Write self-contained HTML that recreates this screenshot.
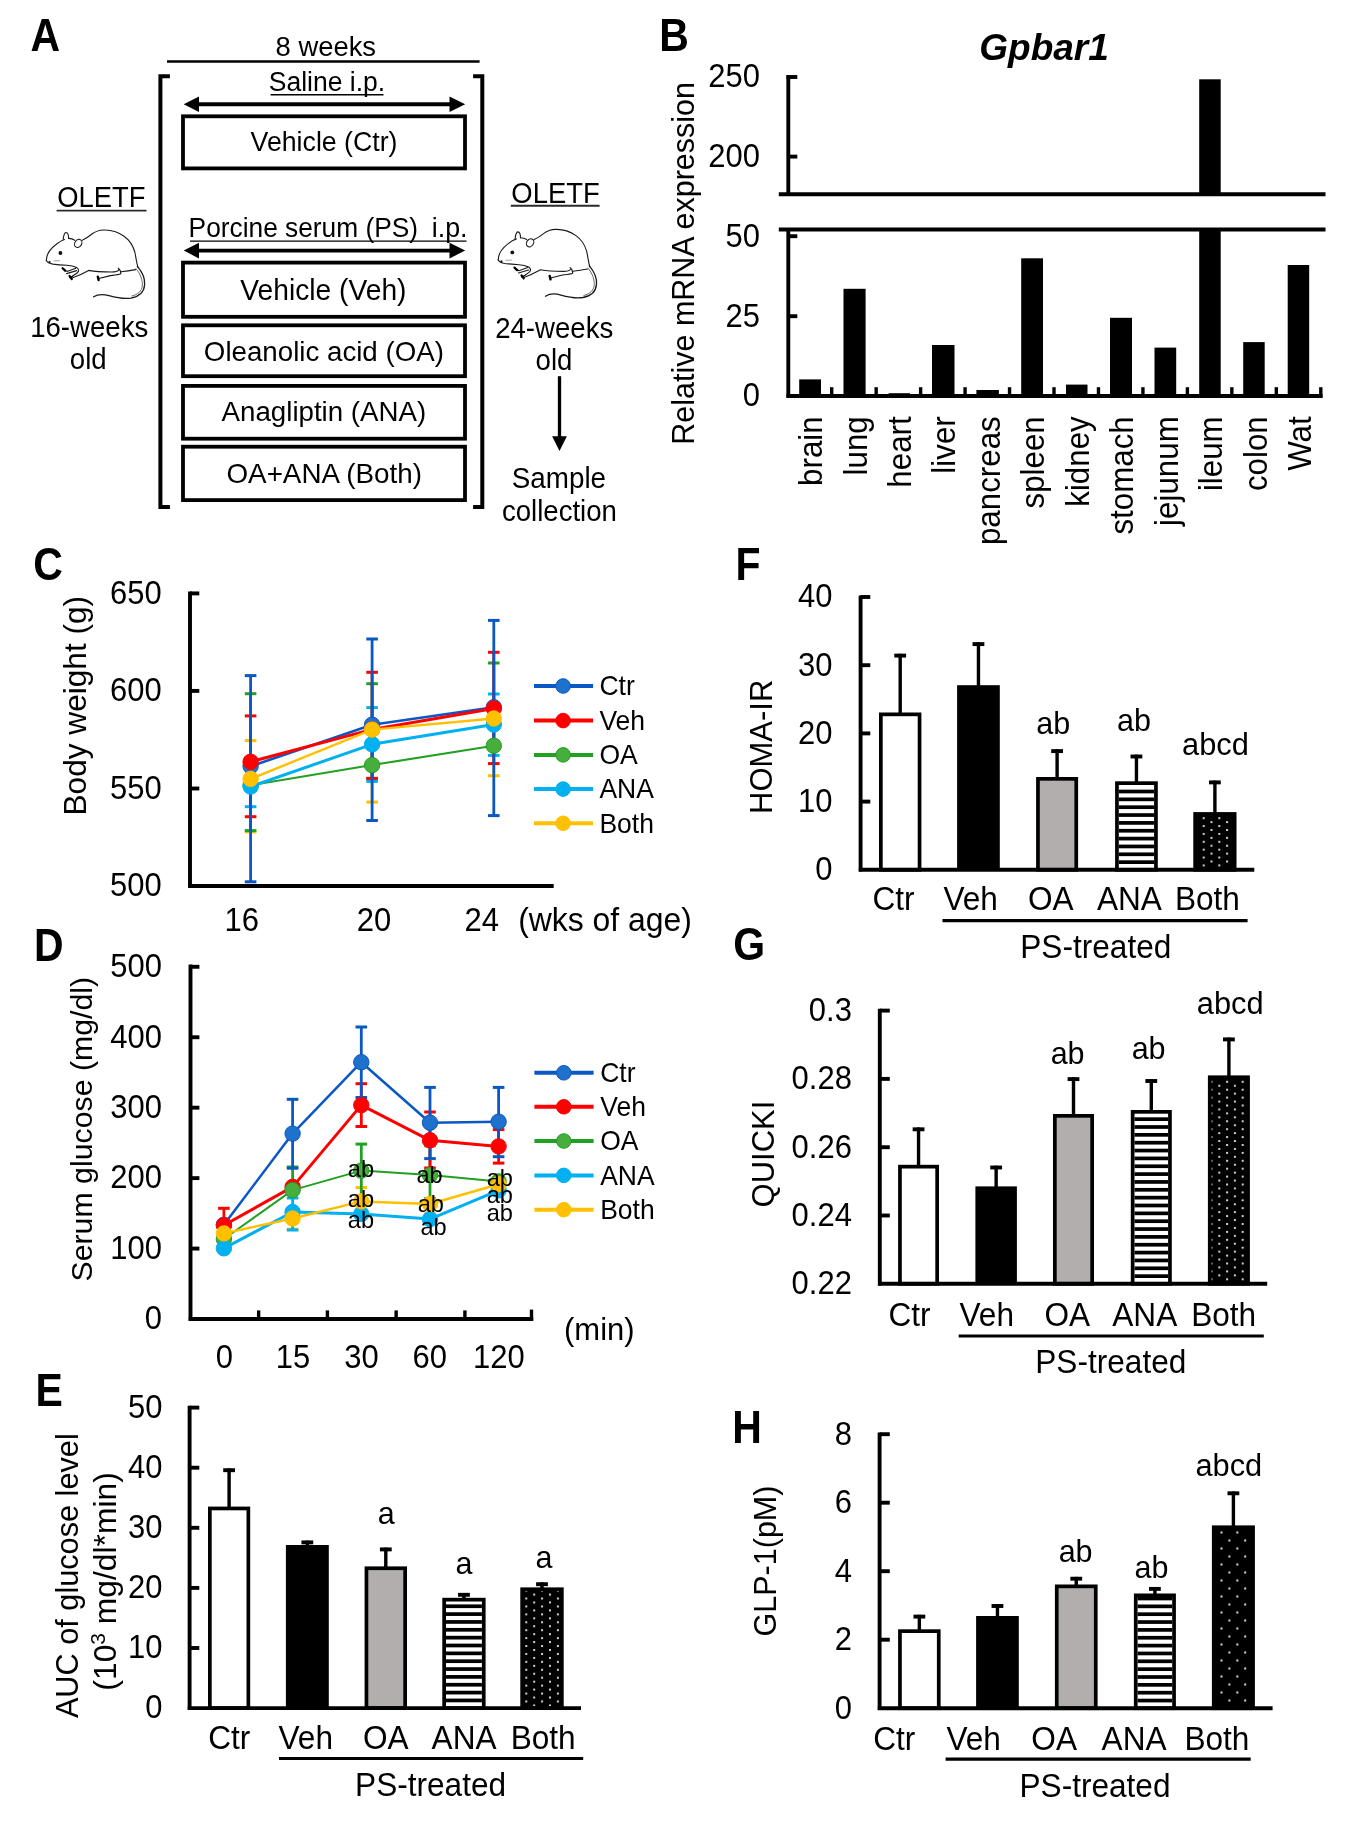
<!DOCTYPE html><html><head><meta charset="utf-8"><title>Figure</title><style>html,body{margin:0;padding:0;background:#fff;}svg{display:block;filter:blur(0.55px);}text{font-family:"Liberation Sans", sans-serif;fill:#000;}</style></head><body>
<svg width="1349" height="1825" viewBox="0 0 1349 1825" font-family='"Liberation Sans", sans-serif'>
<rect width="1349" height="1825" fill="#fff"/>
<defs>
<pattern id="dotsA" patternUnits="userSpaceOnUse" x="525.3" y="1589.6" width="15.8" height="7.92">
<rect width="15.8" height="7.92" fill="#000"/>
<rect x="0" y="0" width="2" height="2" fill="#d0d0d0"/>
<rect x="7.9" y="3.96" width="2" height="2" fill="#d0d0d0"/>
</pattern>
<pattern id="dotsF" patternUnits="userSpaceOnUse" x="1202.7" y="817.2" width="15.6" height="7.87">
<rect width="15.6" height="7.87" fill="#000"/>
<rect x="0" y="0" width="2" height="2" fill="#d0d0d0"/>
<rect x="7.8" y="3.935" width="2" height="2" fill="#d0d0d0"/>
</pattern>
<pattern id="dotsG" patternUnits="userSpaceOnUse" x="1210.5" y="1080.8" width="15.6" height="7.9">
<rect width="15.6" height="7.9" fill="#000"/>
<rect x="0" y="0" width="2" height="2" fill="#d0d0d0"/>
<rect x="7.8" y="3.95" width="2" height="2" fill="#d0d0d0"/>
</pattern>
<pattern id="dotsH" patternUnits="userSpaceOnUse" x="1220.5" y="1547.5" width="15.8" height="16">
<rect width="15.8" height="16" fill="#000"/>
<rect x="0" y="0" width="2" height="2" fill="#d8d8d8"/>
<rect x="7.9" y="8" width="2" height="2" fill="#d8d8d8"/>
</pattern>
</defs>
<text transform="translate(30.6 51.3) scale(1 1.11)" font-size="41" font-weight="bold">A</text>
<text transform="translate(325.8 55.5) scale(1 1.04)" font-size="27.4" text-anchor="middle">8 weeks</text>
<line x1="167" y1="61.5" x2="479.6" y2="61.5" stroke="#000" stroke-width="2.6" stroke-linecap="butt"/>
<path d="M169.9,76.3 H160.4 V507.1 H169.9" stroke="#000" stroke-width="4" fill="none" stroke-linejoin="miter"/>
<path d="M473.1,76.3 H482.3 V507.1 H473.1" stroke="#000" stroke-width="4" fill="none" stroke-linejoin="miter"/>
<text transform="translate(327 90.8) scale(1 1.04)" font-size="26.5" text-anchor="middle">Saline i.p.</text>
<line x1="270.6" y1="94.7" x2="383.5" y2="94.7" stroke="#000" stroke-width="1.4" stroke-linecap="butt"/>
<line x1="196" y1="104.2" x2="452" y2="104.2" stroke="#000" stroke-width="3.9" stroke-linecap="butt"/>
<path d="M183.7,104.2 L199,96.4 L199,112 Z" fill="#000"/>
<path d="M465.2,104.2 L449.5,96.4 L449.5,112 Z" fill="#000"/>
<line x1="196" y1="250.6" x2="452" y2="250.6" stroke="#000" stroke-width="3.9" stroke-linecap="butt"/>
<path d="M183.7,250.6 L199,242.8 L199,258.4 Z" fill="#000"/>
<path d="M465.2,250.6 L449.5,242.8 L449.5,258.4 Z" fill="#000"/>
<rect x="183" y="116.3" width="282" height="52.1" fill="none" stroke="#000" stroke-width="3.8"/>
<text transform="translate(324 151.2) scale(1 1.06)" font-size="26.7" text-anchor="middle">Vehicle (Ctr)</text>
<rect x="183" y="262.6" width="282" height="54.2" fill="none" stroke="#000" stroke-width="3.8"/>
<text transform="translate(323.4 299.8) scale(1 1.067)" font-size="28.2" text-anchor="middle">Vehicle (Veh)</text>
<rect x="183" y="325.3" width="282" height="50.9" fill="none" stroke="#000" stroke-width="3.8"/>
<text x="323.9" y="361" font-size="27.7" text-anchor="middle">Oleanolic acid (OA)</text>
<rect x="183" y="385.9" width="282" height="52.8" fill="none" stroke="#000" stroke-width="3.8"/>
<text x="323.9" y="421" font-size="27.7" text-anchor="middle">Anagliptin (ANA)</text>
<rect x="183" y="446.7" width="282" height="53.4" fill="none" stroke="#000" stroke-width="3.8"/>
<text x="324.2" y="482.9" font-size="27.8" text-anchor="middle">OA+ANA (Both)</text>
<text transform="translate(188.6 237.2) scale(1 1.04)" font-size="26.3">Porcine serum (PS)</text>
<text transform="translate(431.8 237.2) scale(1 1.04)" font-size="26.8">i.p.</text>
<line x1="190" y1="241.2" x2="466.5" y2="241.2" stroke="#000" stroke-width="1.2" stroke-linecap="butt"/>
<text transform="translate(101.4 207.4) scale(1 1.11)" font-size="27.4" text-anchor="middle">OLETF</text>
<line x1="56.6" y1="210.6" x2="146.5" y2="210.6" stroke="#2a2a2a" stroke-width="1.9" stroke-linecap="butt"/>
<text transform="translate(89.2 337.3) scale(1 1.04)" font-size="27.6" text-anchor="middle">16-weeks</text>
<text transform="translate(88.2 369.1) scale(1 1.04)" font-size="27.6" text-anchor="middle">old</text>
<text transform="translate(555.5 202.6) scale(1 1.11)" font-size="27.4" text-anchor="middle">OLETF</text>
<line x1="510.8" y1="205.8" x2="599.6" y2="205.8" stroke="#2a2a2a" stroke-width="1.9" stroke-linecap="butt"/>
<text transform="translate(554.2 338.2) scale(1 1.04)" font-size="27.6" text-anchor="middle">24-weeks</text>
<text transform="translate(554 369.9) scale(1 1.04)" font-size="27.6" text-anchor="middle">old</text>
<line x1="559.5" y1="376.2" x2="559.5" y2="438" stroke="#000" stroke-width="3.3" stroke-linecap="butt"/>
<path d="M552.1,436.3 L566.9,436.3 L559.5,451.1 Z" fill="#000"/>
<text transform="translate(558.9 487.8) scale(1 1.04)" font-size="27.8" text-anchor="middle">Sample</text>
<text transform="translate(559.4 521.4) scale(1 1.04)" font-size="27.6" text-anchor="middle">collection</text>
<g transform="translate(0 0)" fill="none" stroke="#1a1a1a" stroke-width="1.1" stroke-linecap="round" stroke-linejoin="round">
<path d="M46.3,260.5 C46.4,255 50,249 56,244.5 C59,242 61.5,240.4 64.5,239.5 M68.6,238.4 C71,238.6 73,239.2 74.8,240.2 M82.3,240.2 C86,238.5 89,236.4 92,234 C95,231.6 99,230.2 104,230 C111,229.8 118,232 124,236.2 C129.5,240 133,245.5 134.8,252 C136.2,258 136.4,263 138,267.4"/>
<path d="M63.2,239.4 C63.4,236 64.6,232.4 66,232.5 C67.6,232.6 68.6,235.6 68.6,238.4"/>
<ellipse cx="78.2" cy="243.4" rx="3.4" ry="4.3" transform="rotate(35 78.2 243.4)"/>
<circle cx="60.4" cy="253" r="1.9" fill="#111" stroke="none"/>
<circle cx="49.6" cy="262" r="1.1" fill="#111" stroke="none"/>
<path d="M46.3,260.5 C47.5,263 50,263.6 53,264.1 C57,264.6 62,265 67,265.3 C71,265.5 74,266.2 76.8,267.6 C78.8,269 79.2,271 77.6,272.5 C75.6,274.2 72.4,276 70.4,277.6"/>
<path d="M54,261 L59.5,260.6" stroke="#888" stroke-width="0.8"/>
<path d="M63.4,268.6 L67,271.4 L75.8,268.2 M66.6,273.6 L76.6,270.6 M69.6,277.6 L73,276"/>
<path d="M62.6,268.2 L65.2,270.8 M69.6,276 L71.8,279" stroke="#000" stroke-width="2.2"/>
<path d="M72,278 C78,276 84,273 88.6,270.4 C95,271.6 104,272 111.6,272 C115.6,272 117.8,271.2 119.2,269.6 M118.2,268.2 C119.6,269.2 121,271.2 120.8,273.8 C118,275 114,275.2 110.6,275.6 L97.6,278.8 M121,271.8 C126,271.4 131,270.6 135.6,269.6"/>
<path d="M97.8,276.6 L98.6,280" stroke="#000" stroke-width="2.4"/>
<path d="M137.4,266.4 C142.2,272 145.2,279 144.6,285 C144,292 139,296.6 131,298.1 C123,299.2 116,297.6 109,295.6 C103,294 98,294 93.6,296.8" stroke-width="1.3"/>
<path d="M136,268.6 C140.6,274 142.8,280.4 142.3,286 C141.8,291 138,294.6 132,296" stroke-width="0.9" stroke="#555"/>
</g>
<g transform="translate(451.9 -0.6)" fill="none" stroke="#1a1a1a" stroke-width="1.1" stroke-linecap="round" stroke-linejoin="round">
<path d="M46.3,260.5 C46.4,255 50,249 56,244.5 C59,242 61.5,240.4 64.5,239.5 M68.6,238.4 C71,238.6 73,239.2 74.8,240.2 M82.3,240.2 C86,238.5 89,236.4 92,234 C95,231.6 99,230.2 104,230 C111,229.8 118,232 124,236.2 C129.5,240 133,245.5 134.8,252 C136.2,258 136.4,263 138,267.4"/>
<path d="M63.2,239.4 C63.4,236 64.6,232.4 66,232.5 C67.6,232.6 68.6,235.6 68.6,238.4"/>
<ellipse cx="78.2" cy="243.4" rx="3.4" ry="4.3" transform="rotate(35 78.2 243.4)"/>
<circle cx="60.4" cy="253" r="1.9" fill="#111" stroke="none"/>
<circle cx="49.6" cy="262" r="1.1" fill="#111" stroke="none"/>
<path d="M46.3,260.5 C47.5,263 50,263.6 53,264.1 C57,264.6 62,265 67,265.3 C71,265.5 74,266.2 76.8,267.6 C78.8,269 79.2,271 77.6,272.5 C75.6,274.2 72.4,276 70.4,277.6"/>
<path d="M54,261 L59.5,260.6" stroke="#888" stroke-width="0.8"/>
<path d="M63.4,268.6 L67,271.4 L75.8,268.2 M66.6,273.6 L76.6,270.6 M69.6,277.6 L73,276"/>
<path d="M62.6,268.2 L65.2,270.8 M69.6,276 L71.8,279" stroke="#000" stroke-width="2.2"/>
<path d="M72,278 C78,276 84,273 88.6,270.4 C95,271.6 104,272 111.6,272 C115.6,272 117.8,271.2 119.2,269.6 M118.2,268.2 C119.6,269.2 121,271.2 120.8,273.8 C118,275 114,275.2 110.6,275.6 L97.6,278.8 M121,271.8 C126,271.4 131,270.6 135.6,269.6"/>
<path d="M97.8,276.6 L98.6,280" stroke="#000" stroke-width="2.4"/>
<path d="M137.4,266.4 C142.2,272 145.2,279 144.6,285 C144,292 139,296.6 131,298.1 C123,299.2 116,297.6 109,295.6 C103,294 98,294 93.6,296.8" stroke-width="1.3"/>
<path d="M136,268.6 C140.6,274 142.8,280.4 142.3,286 C141.8,291 138,294.6 132,296" stroke-width="0.9" stroke="#555"/>
</g>
<text transform="translate(659.3 51.1) scale(1 1.11)" font-size="41" font-weight="bold">B</text>
<text x="979.3" y="60" font-size="37" font-weight="bold" font-style="italic">Gpbar1</text>
<text transform="translate(693.7 263.4) rotate(-90)" font-size="30.5" text-anchor="middle">Relative mRNA expression</text>
<line x1="788.3" y1="75.2" x2="788.3" y2="194.2" stroke="#000" stroke-width="3.9" stroke-linecap="butt"/>
<line x1="786.5" y1="77" x2="797.3" y2="77" stroke="#000" stroke-width="3.9" stroke-linecap="butt"/>
<line x1="788.3" y1="156.6" x2="797.3" y2="156.6" stroke="#000" stroke-width="3.9" stroke-linecap="butt"/>
<line x1="778.8" y1="194.2" x2="1325.5" y2="194.2" stroke="#000" stroke-width="4" stroke-linecap="butt"/>
<line x1="778.8" y1="229.4" x2="1325.5" y2="229.4" stroke="#000" stroke-width="4" stroke-linecap="butt"/>
<line x1="788.3" y1="229.4" x2="788.3" y2="397.8" stroke="#000" stroke-width="3.9" stroke-linecap="butt"/>
<line x1="788.3" y1="236.2" x2="797.3" y2="236.2" stroke="#000" stroke-width="3.9" stroke-linecap="butt"/>
<line x1="788.3" y1="316.2" x2="797.3" y2="316.2" stroke="#000" stroke-width="3.9" stroke-linecap="butt"/>
<line x1="786.5" y1="396" x2="1322.5" y2="396" stroke="#000" stroke-width="3.9" stroke-linecap="butt"/>
<text transform="translate(760 87.3) scale(1 1.085)" font-size="31" text-anchor="end">250</text>
<text transform="translate(760 166.9) scale(1 1.085)" font-size="31" text-anchor="end">200</text>
<text transform="translate(760 246.5) scale(1 1.085)" font-size="31" text-anchor="end">50</text>
<text transform="translate(760 326.5) scale(1 1.085)" font-size="31" text-anchor="end">25</text>
<text transform="translate(760 406.3) scale(1 1.085)" font-size="31" text-anchor="end">0</text>
<rect x="799.2" y="379.4" width="21.8" height="16.6" fill="#000"/>
<rect x="843.5" y="288.8" width="22.1" height="107.2" fill="#000"/>
<rect x="888.6" y="393.2" width="21.4" height="2.8" fill="#000"/>
<rect x="932" y="345" width="22.5" height="51" fill="#000"/>
<rect x="976.4" y="390" width="22.5" height="6" fill="#000"/>
<rect x="1021.2" y="258.3" width="21.8" height="137.7" fill="#000"/>
<rect x="1066" y="384.6" width="21.5" height="11.4" fill="#000"/>
<rect x="1110" y="317.8" width="22" height="78.2" fill="#000"/>
<rect x="1154.5" y="347.6" width="21.7" height="48.4" fill="#000"/>
<rect x="1199.2" y="79.3" width="21.5" height="114.9" fill="#000"/>
<rect x="1199.2" y="229.4" width="21.5" height="166.6" fill="#000"/>
<rect x="1243.2" y="342.1" width="21.5" height="53.9" fill="#000"/>
<rect x="1287.7" y="265" width="21.5" height="131" fill="#000"/>
<line x1="831.7" y1="387.2" x2="831.7" y2="396" stroke="#000" stroke-width="3.4" stroke-linecap="butt"/>
<line x1="876.16" y1="387.2" x2="876.16" y2="396" stroke="#000" stroke-width="3.4" stroke-linecap="butt"/>
<line x1="920.62" y1="387.2" x2="920.62" y2="396" stroke="#000" stroke-width="3.4" stroke-linecap="butt"/>
<line x1="965.08" y1="387.2" x2="965.08" y2="396" stroke="#000" stroke-width="3.4" stroke-linecap="butt"/>
<line x1="1009.54" y1="387.2" x2="1009.54" y2="396" stroke="#000" stroke-width="3.4" stroke-linecap="butt"/>
<line x1="1054" y1="387.2" x2="1054" y2="396" stroke="#000" stroke-width="3.4" stroke-linecap="butt"/>
<line x1="1098.46" y1="387.2" x2="1098.46" y2="396" stroke="#000" stroke-width="3.4" stroke-linecap="butt"/>
<line x1="1142.92" y1="387.2" x2="1142.92" y2="396" stroke="#000" stroke-width="3.4" stroke-linecap="butt"/>
<line x1="1187.38" y1="387.2" x2="1187.38" y2="396" stroke="#000" stroke-width="3.4" stroke-linecap="butt"/>
<line x1="1231.84" y1="387.2" x2="1231.84" y2="396" stroke="#000" stroke-width="3.4" stroke-linecap="butt"/>
<line x1="1276.3" y1="387.2" x2="1276.3" y2="396" stroke="#000" stroke-width="3.4" stroke-linecap="butt"/>
<line x1="1320.8" y1="387.2" x2="1320.8" y2="397.8" stroke="#000" stroke-width="3.4" stroke-linecap="butt"/>
<text transform="translate(822.05 416.3) rotate(-90) scale(1 1.04)" font-size="31.3" text-anchor="end">brain</text>
<text transform="translate(866.51 416.3) rotate(-90) scale(1 1.04)" font-size="31.3" text-anchor="end">lung</text>
<text transform="translate(910.97 416.3) rotate(-90) scale(1 1.04)" font-size="31.3" text-anchor="end">heart</text>
<text transform="translate(955.43 416.3) rotate(-90) scale(1 1.04)" font-size="31.3" text-anchor="end">liver</text>
<text transform="translate(999.89 416.3) rotate(-90) scale(1 1.04)" font-size="31.3" text-anchor="end">pancreas</text>
<text transform="translate(1044.35 416.3) rotate(-90) scale(1 1.04)" font-size="31.3" text-anchor="end">spleen</text>
<text transform="translate(1088.81 416.3) rotate(-90) scale(1 1.04)" font-size="31.3" text-anchor="end">kidney</text>
<text transform="translate(1133.27 416.3) rotate(-90) scale(1 1.04)" font-size="31.3" text-anchor="end">stomach</text>
<text transform="translate(1177.73 416.3) rotate(-90) scale(1 1.04)" font-size="31.3" text-anchor="end">jejunum</text>
<text transform="translate(1222.19 416.3) rotate(-90) scale(1 1.04)" font-size="31.3" text-anchor="end">ileum</text>
<text transform="translate(1266.65 416.3) rotate(-90) scale(1 1.04)" font-size="31.3" text-anchor="end">colon</text>
<text transform="translate(1311.11 416.3) rotate(-90) scale(1 1.04)" font-size="31.3" text-anchor="end">Wat</text>
<text transform="translate(33.3 579.8) scale(1 1.12)" font-size="41" font-weight="bold">C</text>
<text transform="translate(86 705.7) rotate(-90)" font-size="31.6" text-anchor="middle">Body weight (g)</text>
<line x1="190" y1="591.6" x2="190" y2="887.6" stroke="#000" stroke-width="3.9" stroke-linecap="butt"/>
<line x1="190" y1="593.4" x2="199.3" y2="593.4" stroke="#000" stroke-width="3.9" stroke-linecap="butt"/>
<line x1="190" y1="690.9" x2="199.3" y2="690.9" stroke="#000" stroke-width="3.9" stroke-linecap="butt"/>
<line x1="190" y1="788.5" x2="199.3" y2="788.5" stroke="#000" stroke-width="3.9" stroke-linecap="butt"/>
<line x1="188.2" y1="886" x2="553.7" y2="886" stroke="#000" stroke-width="3.9" stroke-linecap="butt"/>
<text transform="translate(161.7 603.7) scale(1 1.085)" font-size="31" text-anchor="end">650</text>
<text transform="translate(161.7 701.2) scale(1 1.085)" font-size="31" text-anchor="end">600</text>
<text transform="translate(161.7 798.8) scale(1 1.085)" font-size="31" text-anchor="end">550</text>
<text transform="translate(161.7 896.3) scale(1 1.085)" font-size="31" text-anchor="end">500</text>
<text transform="translate(241.8 931.4) scale(1 1.07)" font-size="31" text-anchor="middle">16</text>
<text transform="translate(374 931.4) scale(1 1.07)" font-size="31" text-anchor="middle">20</text>
<text transform="translate(481.7 931.4) scale(1 1.07)" font-size="31" text-anchor="middle">24</text>
<text transform="translate(518.2 930.6) scale(1 1.04)" font-size="31.9">(wks of age)</text>
<line x1="250.6" y1="740.6" x2="250.6" y2="831.9" stroke="#ffc000" stroke-width="2.8" stroke-linecap="butt"/>
<line x1="244.8" y1="740.6" x2="256.4" y2="740.6" stroke="#ffc000" stroke-width="3" stroke-linecap="butt"/>
<line x1="244.8" y1="831.9" x2="256.4" y2="831.9" stroke="#ffc000" stroke-width="3" stroke-linecap="butt"/>
<line x1="372.1" y1="729.6" x2="372.1" y2="802.1" stroke="#ffc000" stroke-width="2.8" stroke-linecap="butt"/>
<line x1="366.3" y1="802.1" x2="377.9" y2="802.1" stroke="#ffc000" stroke-width="3" stroke-linecap="butt"/>
<line x1="493.8" y1="718.5" x2="493.8" y2="775.7" stroke="#ffc000" stroke-width="2.8" stroke-linecap="butt"/>
<line x1="488" y1="775.7" x2="499.6" y2="775.7" stroke="#ffc000" stroke-width="3" stroke-linecap="butt"/>
<line x1="250.6" y1="786.6" x2="250.6" y2="806.7" stroke="#00b0f0" stroke-width="2.8" stroke-linecap="butt"/>
<line x1="244.8" y1="806.7" x2="256.4" y2="806.7" stroke="#00b0f0" stroke-width="3" stroke-linecap="butt"/>
<line x1="372.1" y1="707.6" x2="372.1" y2="781.4" stroke="#00b0f0" stroke-width="2.8" stroke-linecap="butt"/>
<line x1="366.3" y1="707.6" x2="377.9" y2="707.6" stroke="#00b0f0" stroke-width="3" stroke-linecap="butt"/>
<line x1="366.3" y1="781.4" x2="377.9" y2="781.4" stroke="#00b0f0" stroke-width="3" stroke-linecap="butt"/>
<line x1="493.8" y1="694" x2="493.8" y2="755.4" stroke="#00b0f0" stroke-width="2.8" stroke-linecap="butt"/>
<line x1="488" y1="694" x2="499.6" y2="694" stroke="#00b0f0" stroke-width="3" stroke-linecap="butt"/>
<line x1="488" y1="755.4" x2="499.6" y2="755.4" stroke="#00b0f0" stroke-width="3" stroke-linecap="butt"/>
<line x1="250.6" y1="693.7" x2="250.6" y2="830.6" stroke="#22a022" stroke-width="2.8" stroke-linecap="butt"/>
<line x1="244.8" y1="693.7" x2="256.4" y2="693.7" stroke="#22a022" stroke-width="3" stroke-linecap="butt"/>
<line x1="244.8" y1="830.6" x2="256.4" y2="830.6" stroke="#22a022" stroke-width="3" stroke-linecap="butt"/>
<line x1="372.1" y1="683.7" x2="372.1" y2="778.4" stroke="#22a022" stroke-width="2.8" stroke-linecap="butt"/>
<line x1="366.3" y1="683.7" x2="377.9" y2="683.7" stroke="#22a022" stroke-width="3" stroke-linecap="butt"/>
<line x1="366.3" y1="778.4" x2="377.9" y2="778.4" stroke="#22a022" stroke-width="3" stroke-linecap="butt"/>
<line x1="493.8" y1="663" x2="493.8" y2="745.7" stroke="#22a022" stroke-width="2.8" stroke-linecap="butt"/>
<line x1="488" y1="663" x2="499.6" y2="663" stroke="#22a022" stroke-width="3" stroke-linecap="butt"/>
<line x1="250.6" y1="715.9" x2="250.6" y2="816.7" stroke="#ff0000" stroke-width="2.8" stroke-linecap="butt"/>
<line x1="244.8" y1="715.9" x2="256.4" y2="715.9" stroke="#ff0000" stroke-width="3" stroke-linecap="butt"/>
<line x1="244.8" y1="816.7" x2="256.4" y2="816.7" stroke="#ff0000" stroke-width="3" stroke-linecap="butt"/>
<line x1="372.1" y1="672.3" x2="372.1" y2="778.4" stroke="#ff0000" stroke-width="2.8" stroke-linecap="butt"/>
<line x1="366.3" y1="672.3" x2="377.9" y2="672.3" stroke="#ff0000" stroke-width="3" stroke-linecap="butt"/>
<line x1="366.3" y1="778.4" x2="377.9" y2="778.4" stroke="#ff0000" stroke-width="3" stroke-linecap="butt"/>
<line x1="493.8" y1="652.3" x2="493.8" y2="763.6" stroke="#ff0000" stroke-width="2.8" stroke-linecap="butt"/>
<line x1="488" y1="652.3" x2="499.6" y2="652.3" stroke="#ff0000" stroke-width="3" stroke-linecap="butt"/>
<line x1="488" y1="763.6" x2="499.6" y2="763.6" stroke="#ff0000" stroke-width="3" stroke-linecap="butt"/>
<line x1="250.6" y1="675.6" x2="250.6" y2="881.8" stroke="#0b57c4" stroke-width="2.8" stroke-linecap="butt"/>
<line x1="244.8" y1="675.6" x2="256.4" y2="675.6" stroke="#0b57c4" stroke-width="3" stroke-linecap="butt"/>
<line x1="244.8" y1="881.8" x2="256.4" y2="881.8" stroke="#0b57c4" stroke-width="3" stroke-linecap="butt"/>
<line x1="372.1" y1="639" x2="372.1" y2="820.5" stroke="#0b57c4" stroke-width="2.8" stroke-linecap="butt"/>
<line x1="366.3" y1="639" x2="377.9" y2="639" stroke="#0b57c4" stroke-width="3" stroke-linecap="butt"/>
<line x1="366.3" y1="820.5" x2="377.9" y2="820.5" stroke="#0b57c4" stroke-width="3" stroke-linecap="butt"/>
<line x1="493.8" y1="620.4" x2="493.8" y2="815.6" stroke="#0b57c4" stroke-width="2.8" stroke-linecap="butt"/>
<line x1="488" y1="620.4" x2="499.6" y2="620.4" stroke="#0b57c4" stroke-width="3" stroke-linecap="butt"/>
<line x1="488" y1="815.6" x2="499.6" y2="815.6" stroke="#0b57c4" stroke-width="3" stroke-linecap="butt"/>
<polyline points="250.6,766.3 372.1,724.7 493.8,707.2" fill="none" stroke="#0b57c4" stroke-width="2.6" stroke-linejoin="round"/>
<circle cx="250.6" cy="766.3" r="7.7" fill="#1f72cc" stroke="#0b57c4" stroke-width="1"/>
<circle cx="372.1" cy="724.7" r="7.7" fill="#1f72cc" stroke="#0b57c4" stroke-width="1"/>
<circle cx="493.8" cy="707.2" r="7.7" fill="#1f72cc" stroke="#0b57c4" stroke-width="1"/>
<polyline points="250.6,761.8 372.1,729.4 493.8,708.4" fill="none" stroke="#ff0000" stroke-width="3" stroke-linejoin="round"/>
<circle cx="250.6" cy="761.8" r="7.7" fill="#ff0000" stroke="#ff0000" stroke-width="1"/>
<circle cx="372.1" cy="729.4" r="7.7" fill="#ff0000" stroke="#ff0000" stroke-width="1"/>
<circle cx="493.8" cy="708.4" r="7.7" fill="#ff0000" stroke="#ff0000" stroke-width="1"/>
<polyline points="250.6,785.2 372.1,765.1 493.8,745.7" fill="none" stroke="#22a022" stroke-width="2" stroke-linejoin="round"/>
<circle cx="250.6" cy="785.2" r="7.7" fill="#47ad3c" stroke="#22a022" stroke-width="1"/>
<circle cx="372.1" cy="765.1" r="7.7" fill="#47ad3c" stroke="#22a022" stroke-width="1"/>
<circle cx="493.8" cy="745.7" r="7.7" fill="#47ad3c" stroke="#22a022" stroke-width="1"/>
<polyline points="250.6,786.6 372.1,744.3 493.8,724.6" fill="none" stroke="#00b0f0" stroke-width="3" stroke-linejoin="round"/>
<circle cx="250.6" cy="786.6" r="7.7" fill="#00b0f0" stroke="#00b0f0" stroke-width="1"/>
<circle cx="372.1" cy="744.3" r="7.7" fill="#00b0f0" stroke="#00b0f0" stroke-width="1"/>
<circle cx="493.8" cy="724.6" r="7.7" fill="#00b0f0" stroke="#00b0f0" stroke-width="1"/>
<polyline points="250.6,778.9 372.1,729.6 493.8,718.5" fill="none" stroke="#ffc000" stroke-width="2.4" stroke-linejoin="round"/>
<circle cx="250.6" cy="778.9" r="7.7" fill="#ffc000" stroke="#ffc000" stroke-width="1"/>
<circle cx="372.1" cy="729.6" r="7.7" fill="#ffc000" stroke="#ffc000" stroke-width="1"/>
<circle cx="493.8" cy="718.5" r="7.7" fill="#ffc000" stroke="#ffc000" stroke-width="1"/>
<line x1="534" y1="686" x2="593.1" y2="686" stroke="#0b57c4" stroke-width="4" stroke-linecap="butt"/>
<circle cx="563.1" cy="686" r="7.3" fill="#1f72cc" stroke="#0b57c4" stroke-width="1"/>
<text transform="translate(599.4 695.2) scale(1 1.05)" font-size="26.5">Ctr</text>
<line x1="534" y1="720.6" x2="593.1" y2="720.6" stroke="#ff0000" stroke-width="4" stroke-linecap="butt"/>
<circle cx="563.1" cy="720.6" r="7.3" fill="#ff0000" stroke="#ff0000" stroke-width="1"/>
<text transform="translate(599.4 729.8) scale(1 1.05)" font-size="26.5">Veh</text>
<line x1="534" y1="754.9" x2="593.1" y2="754.9" stroke="#22a022" stroke-width="4" stroke-linecap="butt"/>
<circle cx="563.1" cy="754.9" r="7.3" fill="#47ad3c" stroke="#22a022" stroke-width="1"/>
<text transform="translate(599.4 764.1) scale(1 1.05)" font-size="26.5">OA</text>
<line x1="534" y1="789.1" x2="593.1" y2="789.1" stroke="#00b0f0" stroke-width="4" stroke-linecap="butt"/>
<circle cx="563.1" cy="789.1" r="7.3" fill="#00b0f0" stroke="#00b0f0" stroke-width="1"/>
<text transform="translate(599.4 798.3) scale(1 1.05)" font-size="26.5">ANA</text>
<line x1="534" y1="823.3" x2="593.1" y2="823.3" stroke="#ffc000" stroke-width="4" stroke-linecap="butt"/>
<circle cx="563.1" cy="823.3" r="7.3" fill="#ffc000" stroke="#ffc000" stroke-width="1"/>
<text transform="translate(599.4 832.5) scale(1 1.05)" font-size="26.5">Both</text>
<text transform="translate(34.1 960.8) scale(1 1.11)" font-size="41" font-weight="bold">D</text>
<text transform="translate(92 1129.2) rotate(-90)" font-size="30.3" text-anchor="middle">Serum glucose (mg/dl)</text>
<line x1="190.5" y1="964.6" x2="190.5" y2="1320.8" stroke="#000" stroke-width="3.9" stroke-linecap="butt"/>
<line x1="190.5" y1="966.8" x2="199.4" y2="966.8" stroke="#000" stroke-width="3.9" stroke-linecap="butt"/>
<line x1="190.5" y1="1037.24" x2="199.4" y2="1037.24" stroke="#000" stroke-width="3.9" stroke-linecap="butt"/>
<line x1="190.5" y1="1107.68" x2="199.4" y2="1107.68" stroke="#000" stroke-width="3.9" stroke-linecap="butt"/>
<line x1="190.5" y1="1178.12" x2="199.4" y2="1178.12" stroke="#000" stroke-width="3.9" stroke-linecap="butt"/>
<line x1="190.5" y1="1248.56" x2="199.4" y2="1248.56" stroke="#000" stroke-width="3.9" stroke-linecap="butt"/>
<line x1="188.7" y1="1319" x2="533.2" y2="1319" stroke="#000" stroke-width="3.9" stroke-linecap="butt"/>
<line x1="258.65" y1="1310.4" x2="258.65" y2="1319" stroke="#000" stroke-width="3.4" stroke-linecap="butt"/>
<line x1="327.4" y1="1310.4" x2="327.4" y2="1319" stroke="#000" stroke-width="3.4" stroke-linecap="butt"/>
<line x1="396.15" y1="1310.4" x2="396.15" y2="1319" stroke="#000" stroke-width="3.4" stroke-linecap="butt"/>
<line x1="464.9" y1="1310.4" x2="464.9" y2="1319" stroke="#000" stroke-width="3.4" stroke-linecap="butt"/>
<line x1="531.5" y1="1309.6" x2="531.5" y2="1320.8" stroke="#000" stroke-width="3.4" stroke-linecap="butt"/>
<text transform="translate(162 977.1) scale(1 1.085)" font-size="31" text-anchor="end">500</text>
<text transform="translate(162 1047.54) scale(1 1.085)" font-size="31" text-anchor="end">400</text>
<text transform="translate(162 1117.98) scale(1 1.085)" font-size="31" text-anchor="end">300</text>
<text transform="translate(162 1188.42) scale(1 1.085)" font-size="31" text-anchor="end">200</text>
<text transform="translate(162 1258.86) scale(1 1.085)" font-size="31" text-anchor="end">100</text>
<text transform="translate(162 1329.3) scale(1 1.085)" font-size="31" text-anchor="end">0</text>
<text transform="translate(224.3 1367.8) scale(1 1.07)" font-size="31" text-anchor="middle">0</text>
<text transform="translate(293.1 1367.8) scale(1 1.07)" font-size="31" text-anchor="middle">15</text>
<text transform="translate(361.4 1367.8) scale(1 1.07)" font-size="31" text-anchor="middle">30</text>
<text transform="translate(429.7 1367.8) scale(1 1.07)" font-size="31" text-anchor="middle">60</text>
<text transform="translate(498.8 1367.8) scale(1 1.07)" font-size="31" text-anchor="middle">120</text>
<text transform="translate(564 1339.8) scale(1 1.04)" font-size="31">(min)</text>
<line x1="292.6" y1="1218.5" x2="292.6" y2="1229.2" stroke="#ffc000" stroke-width="2.8" stroke-linecap="butt"/>
<line x1="286.8" y1="1229.2" x2="298.4" y2="1229.2" stroke="#ffc000" stroke-width="3" stroke-linecap="butt"/>
<line x1="361.3" y1="1187.6" x2="361.3" y2="1214" stroke="#ffc000" stroke-width="2.8" stroke-linecap="butt"/>
<line x1="355.5" y1="1187.6" x2="367.1" y2="1187.6" stroke="#ffc000" stroke-width="3" stroke-linecap="butt"/>
<line x1="355.5" y1="1214" x2="367.1" y2="1214" stroke="#ffc000" stroke-width="3" stroke-linecap="butt"/>
<line x1="430" y1="1204" x2="430" y2="1214" stroke="#ffc000" stroke-width="2.8" stroke-linecap="butt"/>
<line x1="424.2" y1="1214" x2="435.8" y2="1214" stroke="#ffc000" stroke-width="3" stroke-linecap="butt"/>
<line x1="292.6" y1="1198" x2="292.6" y2="1230" stroke="#00b0f0" stroke-width="2.8" stroke-linecap="butt"/>
<line x1="286.8" y1="1198" x2="298.4" y2="1198" stroke="#00b0f0" stroke-width="3" stroke-linecap="butt"/>
<line x1="286.8" y1="1230" x2="298.4" y2="1230" stroke="#00b0f0" stroke-width="3" stroke-linecap="butt"/>
<line x1="292.6" y1="1167" x2="292.6" y2="1190.1" stroke="#22a022" stroke-width="2.8" stroke-linecap="butt"/>
<line x1="286.8" y1="1167" x2="298.4" y2="1167" stroke="#22a022" stroke-width="3" stroke-linecap="butt"/>
<line x1="361.3" y1="1144.1" x2="361.3" y2="1197" stroke="#22a022" stroke-width="2.8" stroke-linecap="butt"/>
<line x1="355.5" y1="1144.1" x2="367.1" y2="1144.1" stroke="#22a022" stroke-width="3" stroke-linecap="butt"/>
<line x1="355.5" y1="1197" x2="367.1" y2="1197" stroke="#22a022" stroke-width="3" stroke-linecap="butt"/>
<line x1="430" y1="1145.8" x2="430" y2="1198.5" stroke="#22a022" stroke-width="2.8" stroke-linecap="butt"/>
<line x1="424.2" y1="1145.8" x2="435.8" y2="1145.8" stroke="#22a022" stroke-width="3" stroke-linecap="butt"/>
<line x1="424.2" y1="1198.5" x2="435.8" y2="1198.5" stroke="#22a022" stroke-width="3" stroke-linecap="butt"/>
<line x1="223.9" y1="1208.3" x2="223.9" y2="1225.2" stroke="#ff0000" stroke-width="2.8" stroke-linecap="butt"/>
<line x1="218.1" y1="1208.3" x2="229.7" y2="1208.3" stroke="#ff0000" stroke-width="3" stroke-linecap="butt"/>
<line x1="361.3" y1="1083.7" x2="361.3" y2="1126.5" stroke="#ff0000" stroke-width="2.8" stroke-linecap="butt"/>
<line x1="355.5" y1="1083.7" x2="367.1" y2="1083.7" stroke="#ff0000" stroke-width="3" stroke-linecap="butt"/>
<line x1="355.5" y1="1126.5" x2="367.1" y2="1126.5" stroke="#ff0000" stroke-width="3" stroke-linecap="butt"/>
<line x1="430" y1="1112" x2="430" y2="1168" stroke="#ff0000" stroke-width="2.8" stroke-linecap="butt"/>
<line x1="424.2" y1="1112" x2="435.8" y2="1112" stroke="#ff0000" stroke-width="3" stroke-linecap="butt"/>
<line x1="424.2" y1="1168" x2="435.8" y2="1168" stroke="#ff0000" stroke-width="3" stroke-linecap="butt"/>
<line x1="498.6" y1="1129.6" x2="498.6" y2="1163.1" stroke="#ff0000" stroke-width="2.8" stroke-linecap="butt"/>
<line x1="492.8" y1="1129.6" x2="504.4" y2="1129.6" stroke="#ff0000" stroke-width="3" stroke-linecap="butt"/>
<line x1="492.8" y1="1163.1" x2="504.4" y2="1163.1" stroke="#ff0000" stroke-width="3" stroke-linecap="butt"/>
<line x1="292.6" y1="1099.3" x2="292.6" y2="1168.2" stroke="#0b57c4" stroke-width="2.8" stroke-linecap="butt"/>
<line x1="286.8" y1="1099.3" x2="298.4" y2="1099.3" stroke="#0b57c4" stroke-width="3" stroke-linecap="butt"/>
<line x1="286.8" y1="1168.2" x2="298.4" y2="1168.2" stroke="#0b57c4" stroke-width="3" stroke-linecap="butt"/>
<line x1="361.3" y1="1027" x2="361.3" y2="1097.5" stroke="#0b57c4" stroke-width="2.8" stroke-linecap="butt"/>
<line x1="355.5" y1="1027" x2="367.1" y2="1027" stroke="#0b57c4" stroke-width="3" stroke-linecap="butt"/>
<line x1="355.5" y1="1097.5" x2="367.1" y2="1097.5" stroke="#0b57c4" stroke-width="3" stroke-linecap="butt"/>
<line x1="430" y1="1087.4" x2="430" y2="1158.6" stroke="#0b57c4" stroke-width="2.8" stroke-linecap="butt"/>
<line x1="424.2" y1="1087.4" x2="435.8" y2="1087.4" stroke="#0b57c4" stroke-width="3" stroke-linecap="butt"/>
<line x1="424.2" y1="1158.6" x2="435.8" y2="1158.6" stroke="#0b57c4" stroke-width="3" stroke-linecap="butt"/>
<line x1="498.6" y1="1087.4" x2="498.6" y2="1156.7" stroke="#0b57c4" stroke-width="2.8" stroke-linecap="butt"/>
<line x1="492.8" y1="1087.4" x2="504.4" y2="1087.4" stroke="#0b57c4" stroke-width="3" stroke-linecap="butt"/>
<line x1="492.8" y1="1156.7" x2="504.4" y2="1156.7" stroke="#0b57c4" stroke-width="3" stroke-linecap="butt"/>
<polyline points="223.9,1224.8 292.6,1133.6 361.3,1062.2 430,1122.7 498.6,1121.7" fill="none" stroke="#0b57c4" stroke-width="2.5" stroke-linejoin="round"/>
<circle cx="223.9" cy="1224.8" r="7.7" fill="#1f72cc" stroke="#0b57c4" stroke-width="1"/>
<circle cx="292.6" cy="1133.6" r="7.7" fill="#1f72cc" stroke="#0b57c4" stroke-width="1"/>
<circle cx="361.3" cy="1062.2" r="7.7" fill="#1f72cc" stroke="#0b57c4" stroke-width="1"/>
<circle cx="430" cy="1122.7" r="7.7" fill="#1f72cc" stroke="#0b57c4" stroke-width="1"/>
<circle cx="498.6" cy="1121.7" r="7.7" fill="#1f72cc" stroke="#0b57c4" stroke-width="1"/>
<polyline points="223.9,1225.2 292.6,1186.9 361.3,1105.1 430,1140.3 498.6,1146.4" fill="none" stroke="#ff0000" stroke-width="3" stroke-linejoin="round"/>
<circle cx="223.9" cy="1225.2" r="7.7" fill="#ff0000" stroke="#ff0000" stroke-width="1"/>
<circle cx="292.6" cy="1186.9" r="7.7" fill="#ff0000" stroke="#ff0000" stroke-width="1"/>
<circle cx="361.3" cy="1105.1" r="7.7" fill="#ff0000" stroke="#ff0000" stroke-width="1"/>
<circle cx="430" cy="1140.3" r="7.7" fill="#ff0000" stroke="#ff0000" stroke-width="1"/>
<circle cx="498.6" cy="1146.4" r="7.7" fill="#ff0000" stroke="#ff0000" stroke-width="1"/>
<polyline points="223.9,1239 292.6,1190.1 361.3,1170.6 430,1175 498.6,1181.4" fill="none" stroke="#22a022" stroke-width="2" stroke-linejoin="round"/>
<circle cx="223.9" cy="1239" r="7.7" fill="#47ad3c" stroke="#22a022" stroke-width="1"/>
<circle cx="292.6" cy="1190.1" r="7.7" fill="#47ad3c" stroke="#22a022" stroke-width="1"/>
<circle cx="361.3" cy="1170.6" r="7.7" fill="#47ad3c" stroke="#22a022" stroke-width="1"/>
<circle cx="430" cy="1175" r="7.7" fill="#47ad3c" stroke="#22a022" stroke-width="1"/>
<circle cx="498.6" cy="1181.4" r="7.7" fill="#47ad3c" stroke="#22a022" stroke-width="1"/>
<polyline points="223.9,1248.3 292.6,1212 361.3,1214 430,1219.1 498.6,1190.3" fill="none" stroke="#00b0f0" stroke-width="3" stroke-linejoin="round"/>
<circle cx="223.9" cy="1248.3" r="7.7" fill="#00b0f0" stroke="#00b0f0" stroke-width="1"/>
<circle cx="292.6" cy="1212" r="7.7" fill="#00b0f0" stroke="#00b0f0" stroke-width="1"/>
<circle cx="361.3" cy="1214" r="7.7" fill="#00b0f0" stroke="#00b0f0" stroke-width="1"/>
<circle cx="430" cy="1219.1" r="7.7" fill="#00b0f0" stroke="#00b0f0" stroke-width="1"/>
<circle cx="498.6" cy="1190.3" r="7.7" fill="#00b0f0" stroke="#00b0f0" stroke-width="1"/>
<polyline points="223.9,1233.4 292.6,1218.5 361.3,1201.4 430,1204 498.6,1184.3" fill="none" stroke="#ffc000" stroke-width="2.5" stroke-linejoin="round"/>
<circle cx="223.9" cy="1233.4" r="7.7" fill="#ffc000" stroke="#ffc000" stroke-width="1"/>
<circle cx="292.6" cy="1218.5" r="7.7" fill="#ffc000" stroke="#ffc000" stroke-width="1"/>
<circle cx="361.3" cy="1201.4" r="7.7" fill="#ffc000" stroke="#ffc000" stroke-width="1"/>
<circle cx="430" cy="1204" r="7.7" fill="#ffc000" stroke="#ffc000" stroke-width="1"/>
<circle cx="498.6" cy="1184.3" r="7.7" fill="#ffc000" stroke="#ffc000" stroke-width="1"/>
<text x="360.9" y="1176.8" font-size="23.6" text-anchor="middle">ab</text>
<text x="360.9" y="1207" font-size="23.6" text-anchor="middle">ab</text>
<text x="360.9" y="1228.4" font-size="23.6" text-anchor="middle">ab</text>
<text x="429.5" y="1182.5" font-size="23.6" text-anchor="middle">ab</text>
<text x="430.8" y="1212.1" font-size="23.6" text-anchor="middle">ab</text>
<text x="433.6" y="1234.7" font-size="23.6" text-anchor="middle">ab</text>
<text x="499.8" y="1185.5" font-size="23.6" text-anchor="middle">ab</text>
<text x="499.8" y="1203.3" font-size="23.6" text-anchor="middle">ab</text>
<text x="499.8" y="1220.6" font-size="23.6" text-anchor="middle">ab</text>
<line x1="534.4" y1="1072.8" x2="593.6" y2="1072.8" stroke="#0b57c4" stroke-width="4" stroke-linecap="butt"/>
<circle cx="563.8" cy="1072.8" r="7.3" fill="#1f72cc" stroke="#0b57c4" stroke-width="1"/>
<text transform="translate(600.2 1082) scale(1 1.05)" font-size="26.5">Ctr</text>
<line x1="534.4" y1="1106.8" x2="593.6" y2="1106.8" stroke="#ff0000" stroke-width="4" stroke-linecap="butt"/>
<circle cx="563.8" cy="1106.8" r="7.3" fill="#ff0000" stroke="#ff0000" stroke-width="1"/>
<text transform="translate(600.2 1116) scale(1 1.05)" font-size="26.5">Veh</text>
<line x1="534.4" y1="1141" x2="593.6" y2="1141" stroke="#22a022" stroke-width="4" stroke-linecap="butt"/>
<circle cx="563.8" cy="1141" r="7.3" fill="#47ad3c" stroke="#22a022" stroke-width="1"/>
<text transform="translate(600.2 1150.2) scale(1 1.05)" font-size="26.5">OA</text>
<line x1="534.4" y1="1175.4" x2="593.6" y2="1175.4" stroke="#00b0f0" stroke-width="4" stroke-linecap="butt"/>
<circle cx="563.8" cy="1175.4" r="7.3" fill="#00b0f0" stroke="#00b0f0" stroke-width="1"/>
<text transform="translate(600.2 1184.6) scale(1 1.05)" font-size="26.5">ANA</text>
<line x1="534.4" y1="1209.7" x2="593.6" y2="1209.7" stroke="#ffc000" stroke-width="4" stroke-linecap="butt"/>
<circle cx="563.8" cy="1209.7" r="7.3" fill="#ffc000" stroke="#ffc000" stroke-width="1"/>
<text transform="translate(600.2 1218.9) scale(1 1.05)" font-size="26.5">Both</text>
<text transform="translate(35.5 1405.5) scale(1 1.11)" font-size="41" font-weight="bold">E</text>
<text transform="translate(77.8 1575.7) rotate(-90)" font-size="30.7" text-anchor="middle">AUC of glucose level</text>
<text x="115.6" y="1581.4" font-size="31.8" text-anchor="middle" transform="rotate(-90 115.6 1581.4)">(10<tspan font-size="21" dy="-11">3</tspan><tspan dy="11"> mg/dl*min)</tspan></text>
<line x1="189.6" y1="1405.8" x2="189.6" y2="1709.9" stroke="#000" stroke-width="3.9" stroke-linecap="butt"/>
<line x1="189.6" y1="1407.6" x2="199.3" y2="1407.6" stroke="#000" stroke-width="3.9" stroke-linecap="butt"/>
<text transform="translate(162.4 1417.9) scale(1 1.085)" font-size="31" text-anchor="end">50</text>
<line x1="189.6" y1="1467.7" x2="199.3" y2="1467.7" stroke="#000" stroke-width="3.9" stroke-linecap="butt"/>
<text transform="translate(162.4 1478) scale(1 1.085)" font-size="31" text-anchor="end">40</text>
<line x1="189.6" y1="1527.8" x2="199.3" y2="1527.8" stroke="#000" stroke-width="3.9" stroke-linecap="butt"/>
<text transform="translate(162.4 1538.1) scale(1 1.085)" font-size="31" text-anchor="end">30</text>
<line x1="189.6" y1="1587.9" x2="199.3" y2="1587.9" stroke="#000" stroke-width="3.9" stroke-linecap="butt"/>
<text transform="translate(162.4 1598.2) scale(1 1.085)" font-size="31" text-anchor="end">20</text>
<line x1="189.6" y1="1648" x2="199.3" y2="1648" stroke="#000" stroke-width="3.9" stroke-linecap="butt"/>
<text transform="translate(162.4 1658.3) scale(1 1.085)" font-size="31" text-anchor="end">10</text>
<text transform="translate(162.4 1718.4) scale(1 1.085)" font-size="31" text-anchor="end">0</text>
<rect x="209.85" y="1508.45" width="38.5" height="199.65" fill="#fff" stroke="#000" stroke-width="3.7"/>
<line x1="229.1" y1="1468.4" x2="229.1" y2="1508.6" stroke="#000" stroke-width="3.4" stroke-linecap="butt"/>
<line x1="223.2" y1="1470.2" x2="235" y2="1470.2" stroke="#000" stroke-width="3.9" stroke-linecap="butt"/>
<rect x="285.9" y="1545" width="42.9" height="163.1" fill="#000"/>
<line x1="307.35" y1="1540.6" x2="307.35" y2="1547" stroke="#000" stroke-width="3.4" stroke-linecap="butt"/>
<line x1="301.45" y1="1542.4" x2="313.25" y2="1542.4" stroke="#000" stroke-width="3.9" stroke-linecap="butt"/>
<rect x="366.45" y="1568.25" width="38.7" height="139.85" fill="#b2aeae" stroke="#000" stroke-width="3.7"/>
<line x1="385.8" y1="1547.6" x2="385.8" y2="1568.4" stroke="#000" stroke-width="3.4" stroke-linecap="butt"/>
<line x1="379.9" y1="1549.4" x2="391.7" y2="1549.4" stroke="#000" stroke-width="3.9" stroke-linecap="butt"/>
<rect x="444.15" y="1599.65" width="39.6" height="108.45" fill="#fff" stroke="#000" stroke-width="3.7"/>
<rect x="446" y="1698.6" width="35.9" height="3.7" fill="#000"/>
<rect x="446" y="1690.75" width="35.9" height="3.7" fill="#000"/>
<rect x="446" y="1682.9" width="35.9" height="3.7" fill="#000"/>
<rect x="446" y="1675.05" width="35.9" height="3.7" fill="#000"/>
<rect x="446" y="1667.2" width="35.9" height="3.7" fill="#000"/>
<rect x="446" y="1659.35" width="35.9" height="3.7" fill="#000"/>
<rect x="446" y="1651.5" width="35.9" height="3.7" fill="#000"/>
<rect x="446" y="1643.65" width="35.9" height="3.7" fill="#000"/>
<rect x="446" y="1635.8" width="35.9" height="3.7" fill="#000"/>
<rect x="446" y="1627.95" width="35.9" height="3.7" fill="#000"/>
<rect x="446" y="1620.1" width="35.9" height="3.7" fill="#000"/>
<rect x="446" y="1612.25" width="35.9" height="3.7" fill="#000"/>
<rect x="446" y="1604.4" width="35.9" height="3.7" fill="#000"/>
<line x1="463.95" y1="1593" x2="463.95" y2="1599.8" stroke="#000" stroke-width="3.4" stroke-linecap="butt"/>
<line x1="458.05" y1="1594.8" x2="469.85" y2="1594.8" stroke="#000" stroke-width="3.9" stroke-linecap="butt"/>
<rect x="522.15" y="1589.25" width="39.7" height="118.85" fill="url(#dotsA)" stroke="#000" stroke-width="3.7"/>
<line x1="542" y1="1582.4" x2="542" y2="1589.4" stroke="#000" stroke-width="3.4" stroke-linecap="butt"/>
<line x1="536.1" y1="1584.2" x2="547.9" y2="1584.2" stroke="#000" stroke-width="3.9" stroke-linecap="butt"/>
<line x1="187.8" y1="1708.1" x2="581" y2="1708.1" stroke="#000" stroke-width="3.9" stroke-linecap="butt"/>
<text x="386.2" y="1523.9" font-size="30.5" text-anchor="middle">a</text>
<text x="464.1" y="1573.6" font-size="30.5" text-anchor="middle">a</text>
<text x="544" y="1568.2" font-size="30.5" text-anchor="middle">a</text>
<text transform="translate(229.3 1749.2) scale(1 1.03)" font-size="31.6" text-anchor="middle">Ctr</text>
<text transform="translate(305.75 1749.2) scale(1 1.03)" font-size="31.6" text-anchor="middle">Veh</text>
<text transform="translate(385.8 1749.2) scale(1 1.03)" font-size="31.6" text-anchor="middle">OA</text>
<text transform="translate(464.1 1749.2) scale(1 1.03)" font-size="31.6" text-anchor="middle">ANA</text>
<text transform="translate(543.2 1749.2) scale(1 1.03)" font-size="31.6" text-anchor="middle">Both</text>
<line x1="279" y1="1758.5" x2="583.2" y2="1758.5" stroke="#000" stroke-width="3.2" stroke-linecap="butt"/>
<text transform="translate(430.6 1796) scale(1 1.03)" font-size="31.6" text-anchor="middle">PS-treated</text>
<text transform="translate(735.5 580.2) scale(1 1.11)" font-size="41" font-weight="bold">F</text>
<text transform="translate(772.2 746.8) rotate(-90)" font-size="31" text-anchor="middle">HOMA-IR</text>
<line x1="860.6" y1="595.4" x2="860.6" y2="871.6" stroke="#000" stroke-width="3.9" stroke-linecap="butt"/>
<line x1="860.6" y1="597" x2="870.3" y2="597" stroke="#000" stroke-width="3.9" stroke-linecap="butt"/>
<text transform="translate(832.5 607.3) scale(1 1.085)" font-size="31" text-anchor="end">40</text>
<line x1="860.6" y1="665.2" x2="870.3" y2="665.2" stroke="#000" stroke-width="3.9" stroke-linecap="butt"/>
<text transform="translate(832.5 675.5) scale(1 1.085)" font-size="31" text-anchor="end">30</text>
<line x1="860.6" y1="733.4" x2="870.3" y2="733.4" stroke="#000" stroke-width="3.9" stroke-linecap="butt"/>
<text transform="translate(832.5 743.7) scale(1 1.085)" font-size="31" text-anchor="end">20</text>
<line x1="860.6" y1="801.6" x2="870.3" y2="801.6" stroke="#000" stroke-width="3.9" stroke-linecap="butt"/>
<text transform="translate(832.5 811.9) scale(1 1.085)" font-size="31" text-anchor="end">10</text>
<text transform="translate(832.5 880.1) scale(1 1.085)" font-size="31" text-anchor="end">0</text>
<rect x="880.85" y="714.35" width="38.7" height="155.45" fill="#fff" stroke="#000" stroke-width="3.7"/>
<line x1="900.2" y1="653.8" x2="900.2" y2="714.5" stroke="#000" stroke-width="3.4" stroke-linecap="butt"/>
<line x1="894.3" y1="655.6" x2="906.1" y2="655.6" stroke="#000" stroke-width="3.9" stroke-linecap="butt"/>
<rect x="957.1" y="685.2" width="42.7" height="184.6" fill="#000"/>
<line x1="978.45" y1="642.3" x2="978.45" y2="687.2" stroke="#000" stroke-width="3.4" stroke-linecap="butt"/>
<line x1="972.55" y1="644.1" x2="984.35" y2="644.1" stroke="#000" stroke-width="3.9" stroke-linecap="butt"/>
<rect x="1037.95" y="778.85" width="38.3" height="90.95" fill="#b2aeae" stroke="#000" stroke-width="3.7"/>
<line x1="1057.1" y1="749.3" x2="1057.1" y2="779" stroke="#000" stroke-width="3.4" stroke-linecap="butt"/>
<line x1="1051.2" y1="751.1" x2="1063" y2="751.1" stroke="#000" stroke-width="3.9" stroke-linecap="butt"/>
<rect x="1116.95" y="783.15" width="39" height="86.65" fill="#fff" stroke="#000" stroke-width="3.7"/>
<rect x="1118.8" y="860.3" width="35.3" height="3.7" fill="#000"/>
<rect x="1118.8" y="852.45" width="35.3" height="3.7" fill="#000"/>
<rect x="1118.8" y="844.6" width="35.3" height="3.7" fill="#000"/>
<rect x="1118.8" y="836.75" width="35.3" height="3.7" fill="#000"/>
<rect x="1118.8" y="828.9" width="35.3" height="3.7" fill="#000"/>
<rect x="1118.8" y="821.05" width="35.3" height="3.7" fill="#000"/>
<rect x="1118.8" y="813.2" width="35.3" height="3.7" fill="#000"/>
<rect x="1118.8" y="805.35" width="35.3" height="3.7" fill="#000"/>
<rect x="1118.8" y="797.5" width="35.3" height="3.7" fill="#000"/>
<rect x="1118.8" y="789.65" width="35.3" height="3.7" fill="#000"/>
<line x1="1136.45" y1="754.7" x2="1136.45" y2="783.3" stroke="#000" stroke-width="3.4" stroke-linecap="butt"/>
<line x1="1130.55" y1="756.5" x2="1142.35" y2="756.5" stroke="#000" stroke-width="3.9" stroke-linecap="butt"/>
<rect x="1195.15" y="813.95" width="39.5" height="55.85" fill="url(#dotsF)" stroke="#000" stroke-width="3.7"/>
<line x1="1214.9" y1="780.6" x2="1214.9" y2="814.1" stroke="#000" stroke-width="3.4" stroke-linecap="butt"/>
<line x1="1209" y1="782.4" x2="1220.8" y2="782.4" stroke="#000" stroke-width="3.9" stroke-linecap="butt"/>
<line x1="858.8" y1="869.8" x2="1254.3" y2="869.8" stroke="#000" stroke-width="3.9" stroke-linecap="butt"/>
<text x="1053.3" y="734.2" font-size="30.5" text-anchor="middle">ab</text>
<text x="1134" y="731.3" font-size="30.5" text-anchor="middle">ab</text>
<text x="1215.4" y="755.4" font-size="30.8" text-anchor="middle">abcd</text>
<text transform="translate(893.55 910.2) scale(1 1.03)" font-size="31.6" text-anchor="middle">Ctr</text>
<text transform="translate(970.65 910.2) scale(1 1.03)" font-size="31.6" text-anchor="middle">Veh</text>
<text transform="translate(1050.8 910.2) scale(1 1.03)" font-size="31.6" text-anchor="middle">OA</text>
<text transform="translate(1129.4 910.2) scale(1 1.03)" font-size="31.6" text-anchor="middle">ANA</text>
<text transform="translate(1207.4 910.2) scale(1 1.03)" font-size="31.6" text-anchor="middle">Both</text>
<line x1="942.5" y1="920.7" x2="1247.6" y2="920.7" stroke="#000" stroke-width="3.2" stroke-linecap="butt"/>
<text transform="translate(1095.8 957.8) scale(1 1.03)" font-size="31.6" text-anchor="middle">PS-treated</text>
<text transform="translate(733.3 960.3) scale(1 1.12)" font-size="41" font-weight="bold">G</text>
<text transform="translate(774.2 1154) rotate(-90)" font-size="31" text-anchor="middle">QUICKI</text>
<line x1="879.8" y1="1008.8" x2="879.8" y2="1285.6" stroke="#000" stroke-width="3.9" stroke-linecap="butt"/>
<line x1="879.8" y1="1010.6" x2="889.8" y2="1010.6" stroke="#000" stroke-width="3.9" stroke-linecap="butt"/>
<text transform="translate(851.9 1020.9) scale(1 1.085)" font-size="31" text-anchor="end">0.3</text>
<line x1="879.8" y1="1078.9" x2="889.8" y2="1078.9" stroke="#000" stroke-width="3.9" stroke-linecap="butt"/>
<text transform="translate(851.9 1089.2) scale(1 1.085)" font-size="31" text-anchor="end">0.28</text>
<line x1="879.8" y1="1147.2" x2="889.8" y2="1147.2" stroke="#000" stroke-width="3.9" stroke-linecap="butt"/>
<text transform="translate(851.9 1157.5) scale(1 1.085)" font-size="31" text-anchor="end">0.26</text>
<line x1="879.8" y1="1215.5" x2="889.8" y2="1215.5" stroke="#000" stroke-width="3.9" stroke-linecap="butt"/>
<text transform="translate(851.9 1225.8) scale(1 1.085)" font-size="31" text-anchor="end">0.24</text>
<text transform="translate(851.9 1294.1) scale(1 1.085)" font-size="31" text-anchor="end">0.22</text>
<rect x="899.95" y="1166.65" width="37.2" height="117.15" fill="#fff" stroke="#000" stroke-width="3.7"/>
<line x1="918.55" y1="1127.5" x2="918.55" y2="1166.8" stroke="#000" stroke-width="3.4" stroke-linecap="butt"/>
<line x1="912.65" y1="1129.3" x2="924.45" y2="1129.3" stroke="#000" stroke-width="3.9" stroke-linecap="butt"/>
<rect x="975.4" y="1186.4" width="41.5" height="97.4" fill="#000"/>
<line x1="996.15" y1="1165.7" x2="996.15" y2="1188.4" stroke="#000" stroke-width="3.4" stroke-linecap="butt"/>
<line x1="990.25" y1="1167.5" x2="1002.05" y2="1167.5" stroke="#000" stroke-width="3.9" stroke-linecap="butt"/>
<rect x="1054.85" y="1115.85" width="37.3" height="167.95" fill="#b2aeae" stroke="#000" stroke-width="3.7"/>
<line x1="1073.5" y1="1077.3" x2="1073.5" y2="1116" stroke="#000" stroke-width="3.4" stroke-linecap="butt"/>
<line x1="1067.6" y1="1079.1" x2="1079.4" y2="1079.1" stroke="#000" stroke-width="3.9" stroke-linecap="butt"/>
<rect x="1132.65" y="1111.85" width="37.3" height="171.95" fill="#fff" stroke="#000" stroke-width="3.7"/>
<rect x="1134.5" y="1274.3" width="33.6" height="3.7" fill="#000"/>
<rect x="1134.5" y="1266.45" width="33.6" height="3.7" fill="#000"/>
<rect x="1134.5" y="1258.6" width="33.6" height="3.7" fill="#000"/>
<rect x="1134.5" y="1250.75" width="33.6" height="3.7" fill="#000"/>
<rect x="1134.5" y="1242.9" width="33.6" height="3.7" fill="#000"/>
<rect x="1134.5" y="1235.05" width="33.6" height="3.7" fill="#000"/>
<rect x="1134.5" y="1227.2" width="33.6" height="3.7" fill="#000"/>
<rect x="1134.5" y="1219.35" width="33.6" height="3.7" fill="#000"/>
<rect x="1134.5" y="1211.5" width="33.6" height="3.7" fill="#000"/>
<rect x="1134.5" y="1203.65" width="33.6" height="3.7" fill="#000"/>
<rect x="1134.5" y="1195.8" width="33.6" height="3.7" fill="#000"/>
<rect x="1134.5" y="1187.95" width="33.6" height="3.7" fill="#000"/>
<rect x="1134.5" y="1180.1" width="33.6" height="3.7" fill="#000"/>
<rect x="1134.5" y="1172.25" width="33.6" height="3.7" fill="#000"/>
<rect x="1134.5" y="1164.4" width="33.6" height="3.7" fill="#000"/>
<rect x="1134.5" y="1156.55" width="33.6" height="3.7" fill="#000"/>
<rect x="1134.5" y="1148.7" width="33.6" height="3.7" fill="#000"/>
<rect x="1134.5" y="1140.85" width="33.6" height="3.7" fill="#000"/>
<rect x="1134.5" y="1133" width="33.6" height="3.7" fill="#000"/>
<rect x="1134.5" y="1125.15" width="33.6" height="3.7" fill="#000"/>
<rect x="1134.5" y="1117.3" width="33.6" height="3.7" fill="#000"/>
<line x1="1151.3" y1="1079.2" x2="1151.3" y2="1112" stroke="#000" stroke-width="3.4" stroke-linecap="butt"/>
<line x1="1145.4" y1="1081" x2="1157.2" y2="1081" stroke="#000" stroke-width="3.9" stroke-linecap="butt"/>
<rect x="1209.75" y="1077.25" width="38.3" height="206.55" fill="url(#dotsG)" stroke="#000" stroke-width="3.7"/>
<line x1="1228.9" y1="1037.6" x2="1228.9" y2="1077.4" stroke="#000" stroke-width="3.4" stroke-linecap="butt"/>
<line x1="1223" y1="1039.4" x2="1234.8" y2="1039.4" stroke="#000" stroke-width="3.9" stroke-linecap="butt"/>
<line x1="878" y1="1283.8" x2="1267.2" y2="1283.8" stroke="#000" stroke-width="3.9" stroke-linecap="butt"/>
<text x="1067.6" y="1064.2" font-size="30.5" text-anchor="middle">ab</text>
<text x="1148.6" y="1058.6" font-size="30.5" text-anchor="middle">ab</text>
<text x="1230.2" y="1013.9" font-size="30.8" text-anchor="middle">abcd</text>
<text transform="translate(909.55 1326.4) scale(1 1.03)" font-size="31.6" text-anchor="middle">Ctr</text>
<text transform="translate(986.75 1326.4) scale(1 1.03)" font-size="31.6" text-anchor="middle">Veh</text>
<text transform="translate(1067.25 1326.4) scale(1 1.03)" font-size="31.6" text-anchor="middle">OA</text>
<text transform="translate(1144.75 1326.4) scale(1 1.03)" font-size="31.6" text-anchor="middle">ANA</text>
<text transform="translate(1223.65 1326.4) scale(1 1.03)" font-size="31.6" text-anchor="middle">Both</text>
<line x1="958.7" y1="1336" x2="1263.8" y2="1336" stroke="#000" stroke-width="3.2" stroke-linecap="butt"/>
<text transform="translate(1110.8 1372.8) scale(1 1.03)" font-size="31.6" text-anchor="middle">PS-treated</text>
<text transform="translate(732.3 1443) scale(1 1.11)" font-size="41" font-weight="bold">H</text>
<text transform="translate(776 1561) rotate(-90)" font-size="30.5" text-anchor="middle">GLP-1(pM)</text>
<line x1="879.6" y1="1432.4" x2="879.6" y2="1710" stroke="#000" stroke-width="3.9" stroke-linecap="butt"/>
<line x1="879.6" y1="1434.2" x2="889.8" y2="1434.2" stroke="#000" stroke-width="3.9" stroke-linecap="butt"/>
<text transform="translate(851.9 1444.5) scale(1 1.085)" font-size="31" text-anchor="end">8</text>
<line x1="879.6" y1="1502.7" x2="889.8" y2="1502.7" stroke="#000" stroke-width="3.9" stroke-linecap="butt"/>
<text transform="translate(851.9 1513) scale(1 1.085)" font-size="31" text-anchor="end">6</text>
<line x1="879.6" y1="1571.2" x2="889.8" y2="1571.2" stroke="#000" stroke-width="3.9" stroke-linecap="butt"/>
<text transform="translate(851.9 1581.5) scale(1 1.085)" font-size="31" text-anchor="end">4</text>
<line x1="879.6" y1="1639.7" x2="889.8" y2="1639.7" stroke="#000" stroke-width="3.9" stroke-linecap="butt"/>
<text transform="translate(851.9 1650) scale(1 1.085)" font-size="31" text-anchor="end">2</text>
<text transform="translate(851.9 1718.5) scale(1 1.085)" font-size="31" text-anchor="end">0</text>
<rect x="899.95" y="1631.15" width="38.8" height="77.05" fill="#fff" stroke="#000" stroke-width="3.7"/>
<line x1="919.35" y1="1614.8" x2="919.35" y2="1631.3" stroke="#000" stroke-width="3.4" stroke-linecap="butt"/>
<line x1="913.45" y1="1616.6" x2="925.25" y2="1616.6" stroke="#000" stroke-width="3.9" stroke-linecap="butt"/>
<rect x="976.1" y="1616" width="42.7" height="92.2" fill="#000"/>
<line x1="997.45" y1="1604.2" x2="997.45" y2="1618" stroke="#000" stroke-width="3.4" stroke-linecap="butt"/>
<line x1="991.55" y1="1606" x2="1003.35" y2="1606" stroke="#000" stroke-width="3.9" stroke-linecap="butt"/>
<rect x="1056.75" y="1586.35" width="39" height="121.85" fill="#b2aeae" stroke="#000" stroke-width="3.7"/>
<line x1="1076.25" y1="1576.9" x2="1076.25" y2="1586.5" stroke="#000" stroke-width="3.4" stroke-linecap="butt"/>
<line x1="1070.35" y1="1578.7" x2="1082.15" y2="1578.7" stroke="#000" stroke-width="3.9" stroke-linecap="butt"/>
<rect x="1135.75" y="1595.35" width="38.3" height="112.85" fill="#fff" stroke="#000" stroke-width="3.7"/>
<rect x="1137.6" y="1698.7" width="34.6" height="3.7" fill="#000"/>
<rect x="1137.6" y="1690.85" width="34.6" height="3.7" fill="#000"/>
<rect x="1137.6" y="1683" width="34.6" height="3.7" fill="#000"/>
<rect x="1137.6" y="1675.15" width="34.6" height="3.7" fill="#000"/>
<rect x="1137.6" y="1667.3" width="34.6" height="3.7" fill="#000"/>
<rect x="1137.6" y="1659.45" width="34.6" height="3.7" fill="#000"/>
<rect x="1137.6" y="1651.6" width="34.6" height="3.7" fill="#000"/>
<rect x="1137.6" y="1643.75" width="34.6" height="3.7" fill="#000"/>
<rect x="1137.6" y="1635.9" width="34.6" height="3.7" fill="#000"/>
<rect x="1137.6" y="1628.05" width="34.6" height="3.7" fill="#000"/>
<rect x="1137.6" y="1620.2" width="34.6" height="3.7" fill="#000"/>
<rect x="1137.6" y="1612.35" width="34.6" height="3.7" fill="#000"/>
<rect x="1137.6" y="1604.5" width="34.6" height="3.7" fill="#000"/>
<rect x="1137.6" y="1596.65" width="34.6" height="3.7" fill="#000"/>
<line x1="1154.9" y1="1587.1" x2="1154.9" y2="1595.5" stroke="#000" stroke-width="3.4" stroke-linecap="butt"/>
<line x1="1149" y1="1588.9" x2="1160.8" y2="1588.9" stroke="#000" stroke-width="3.9" stroke-linecap="butt"/>
<rect x="1213.75" y="1527.25" width="39.3" height="180.95" fill="url(#dotsH)" stroke="#000" stroke-width="3.7"/>
<line x1="1233.4" y1="1491.5" x2="1233.4" y2="1527.4" stroke="#000" stroke-width="3.4" stroke-linecap="butt"/>
<line x1="1227.5" y1="1493.3" x2="1239.3" y2="1493.3" stroke="#000" stroke-width="3.9" stroke-linecap="butt"/>
<line x1="877.8" y1="1708.2" x2="1272.6" y2="1708.2" stroke="#000" stroke-width="3.9" stroke-linecap="butt"/>
<text x="1075.6" y="1561.5" font-size="30.5" text-anchor="middle">ab</text>
<text x="1151.4" y="1578.1" font-size="30.5" text-anchor="middle">ab</text>
<text x="1228.8" y="1476.1" font-size="30.8" text-anchor="middle">abcd</text>
<text transform="translate(894.25 1749.6) scale(1 1.03)" font-size="31.6" text-anchor="middle">Ctr</text>
<text transform="translate(973.65 1749.6) scale(1 1.03)" font-size="31.6" text-anchor="middle">Veh</text>
<text transform="translate(1054.15 1749.6) scale(1 1.03)" font-size="31.6" text-anchor="middle">OA</text>
<text transform="translate(1134.1 1749.6) scale(1 1.03)" font-size="31.6" text-anchor="middle">ANA</text>
<text transform="translate(1216.9 1749.6) scale(1 1.03)" font-size="31.6" text-anchor="middle">Both</text>
<line x1="945.6" y1="1759.1" x2="1250.7" y2="1759.1" stroke="#000" stroke-width="3.2" stroke-linecap="butt"/>
<text transform="translate(1095 1797.2) scale(1 1.03)" font-size="31.6" text-anchor="middle">PS-treated</text>
</svg></body></html>
